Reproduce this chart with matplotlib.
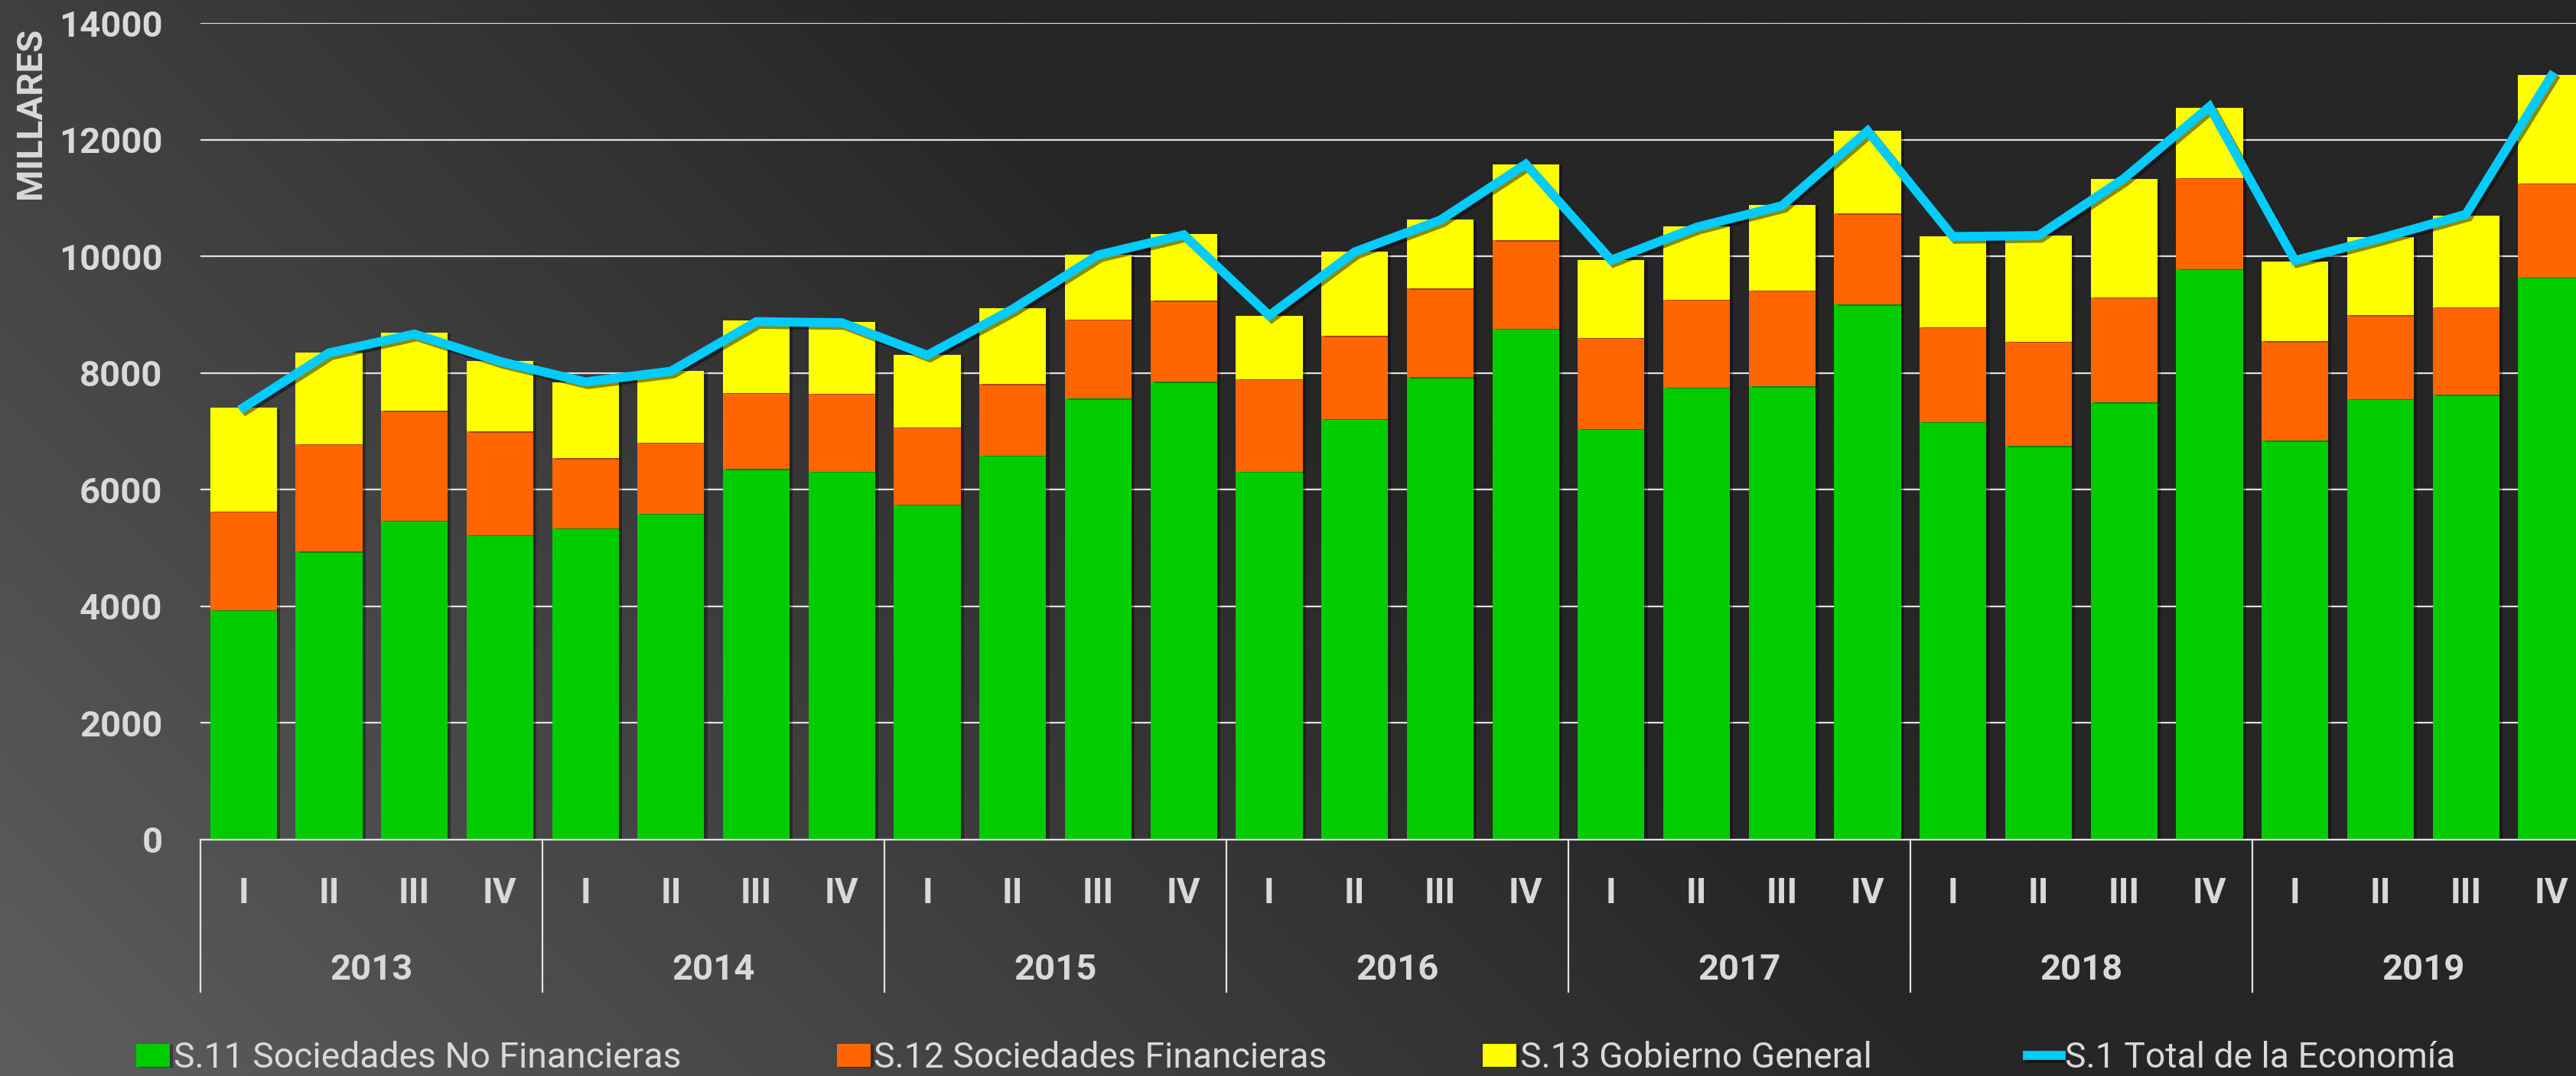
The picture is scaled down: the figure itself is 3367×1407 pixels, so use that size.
import numpy as np
import matplotlib
matplotlib.use("Agg")
import matplotlib.pyplot as plt
import matplotlib.transforms as mtransforms
import matplotlib.patheffects as pe

# ---------------- data ----------------
years = ["2013", "2014", "2015", "2016", "2017", "2018", "2019"]
quarters = ["I", "II", "III", "IV"]

s11_no_financieras = [3934, 4938, 5467, 5220, 5337, 5589, 6352, 6305, 5742, 6586, 7560, 7847,
                      6305, 7214, 7924, 8756, 7044, 7748, 7771, 9173, 7156, 6746, 7496, 9782,
                      6840, 7555, 7625, 9641]
s12_financieras = [1691, 1842, 1881, 1776, 1197, 1220, 1308, 1343, 1325, 1220, 1355, 1390,
                   1589, 1419, 1525, 1520, 1560, 1513, 1648, 1560, 1630, 1788, 1800, 1559,
                   1705, 1436, 1501, 1612]
s13_gobierno = [1776, 1570, 1342, 1208, 1302, 1232, 1237, 1232, 1238, 1302, 1108, 1144,
                1091, 1443, 1178, 1301, 1331, 1249, 1461, 1419, 1559, 1822, 2033, 1207,
                1366, 1342, 1576, 1852]
s1_total = [7407, 8344, 8667, 8198, 7846, 8029, 8880, 8862, 8305, 9097, 10023, 10369,
            8985, 10076, 10620, 11580, 9935, 10500, 10870, 12150, 10339, 10356, 11335, 12566,
            9929, 10310, 10720, 13093]

y_ticks = [0, 2000, 4000, 6000, 8000, 10000, 12000, 14000]
series_names = ["S.11 Sociedades No Financieras", "S.12 Sociedades Financieras",
                "S.13 Gobierno General", "S.1 Total de la Economía"]
y_label = "MILLARES"

# ---------------- style ----------------
W, H = 3367, 1407
DPI = 100
TXT = "#d9d9d9"
plt.rcParams["font.family"] = ["Roboto", "DejaVu Sans"]

fig = plt.figure(figsize=(W / DPI, H / DPI), dpi=DPI)

# background gradient (bottom-left light grey -> top-right dark)
bg = fig.add_axes([0, 0, 1, 1], zorder=-10)
xs = np.linspace(0, W, 674)
hs = np.linspace(H, 0, 282)  # height above bottom, top row first
X, Hh = np.meshgrid(xs, hs)
v = 94 - 0.0215 * (X + Hh)
v = np.maximum(v, 38) / 255.0
img = np.dstack([v, v, v])
bg.imshow(img, aspect="auto", interpolation="bilinear", extent=[0, 1, 0, 1])
bg.set_axis_off()

ax_left = 262.4 / W
ax_bottom = 1 - 1097.7 / H
ax_width = 7 * 446.9 / W
ax_height = (1097.7 - 30.2) / H
ax = fig.add_axes([ax_left, ax_bottom, ax_width, ax_height])
ax.set_facecolor("none")

n = len(s11_no_financieras)
x = np.arange(n)
g = np.array(s11_no_financieras)
o = np.array(s12_financieras)
yv = np.array(s13_gobierno)

shadow = [pe.SimplePatchShadow(offset=(3, -1), shadow_rgbFace="k", alpha=0.35), pe.Normal()]
bw = 0.78
b1 = ax.bar(x, g, width=bw, color="#00cc00", label=series_names[0], zorder=2)
b2 = ax.bar(x, o, bottom=g, width=bw, color="#ff6600", label=series_names[1], zorder=2)
b3 = ax.bar(x, yv, bottom=g + o, width=bw, color="#ffff00", label=series_names[2], zorder=2)
for bars in (b1, b2, b3):
    for p in bars:
        p.set_path_effects(shadow)

ln, = ax.plot(x, s1_total, color="#00ccff", lw=8.5, solid_joinstyle="miter", zorder=4,
              label=series_names[3],
              path_effects=[pe.SimpleLineShadow(offset=(2.5, -2.5), shadow_color="#000000", alpha=0.45),
                            pe.Normal()])

ax.set_xlim(-0.5, n - 0.5)
ax.set_ylim(0, 14000)
ax.set_yticks(y_ticks)
ax.set_yticklabels([str(t) for t in y_ticks], fontweight="bold", fontsize=34, color=TXT)
ax.tick_params(axis="y", length=0, pad=36)
ax.yaxis.grid(True, color="#e2e2e2", lw=1.6)
ax.set_axisbelow(True)

ax.set_xticks([])
for s in ("top", "right", "left"):
    ax.spines[s].set_visible(False)
ax.spines["bottom"].set_color("#e2e2e2")
ax.spines["bottom"].set_linewidth(1.6)
ax.spines["bottom"].set_zorder(5)

trans = mtransforms.blended_transform_factory(ax.transData, ax.transAxes)
for i in range(n):
    ax.text(x[i], -0.0785, quarters[i % 4], transform=trans, ha="center", va="baseline",
            fontsize=34, fontweight="bold", color=TXT)
for k, yr in enumerate(years):
    ax.text(4 * k + 1.5, -0.1717, yr, transform=trans, ha="center", va="baseline",
            fontsize=34, fontweight="bold", color=TXT)
for k in range(len(years) + 1):
    ax.plot([4 * k - 0.5, 4 * k - 0.5], [0, -0.1867], transform=trans, color="#e2e2e2",
            lw=1.6, clip_on=False)

fig.text(40 / W, 1 - 148 / H, y_label, rotation=90, ha="center", va="center",
         fontsize=34, fontweight="bold", color=TXT)

leg = fig.legend(handles=[b1, b2, b3, ln], labels=series_names, loc="center",
                 bbox_to_anchor=(0.503, 1 - 1383 / H), ncol=4, frameon=False,
                 fontsize=33.3, handlelength=0.95, handleheight=0.62, handletextpad=0.1,
                 columnspacing=4.4, borderpad=0, borderaxespad=0)
for t in leg.get_texts():
    t.set_color(TXT)

fig.savefig("out.png", dpi=DPI)
